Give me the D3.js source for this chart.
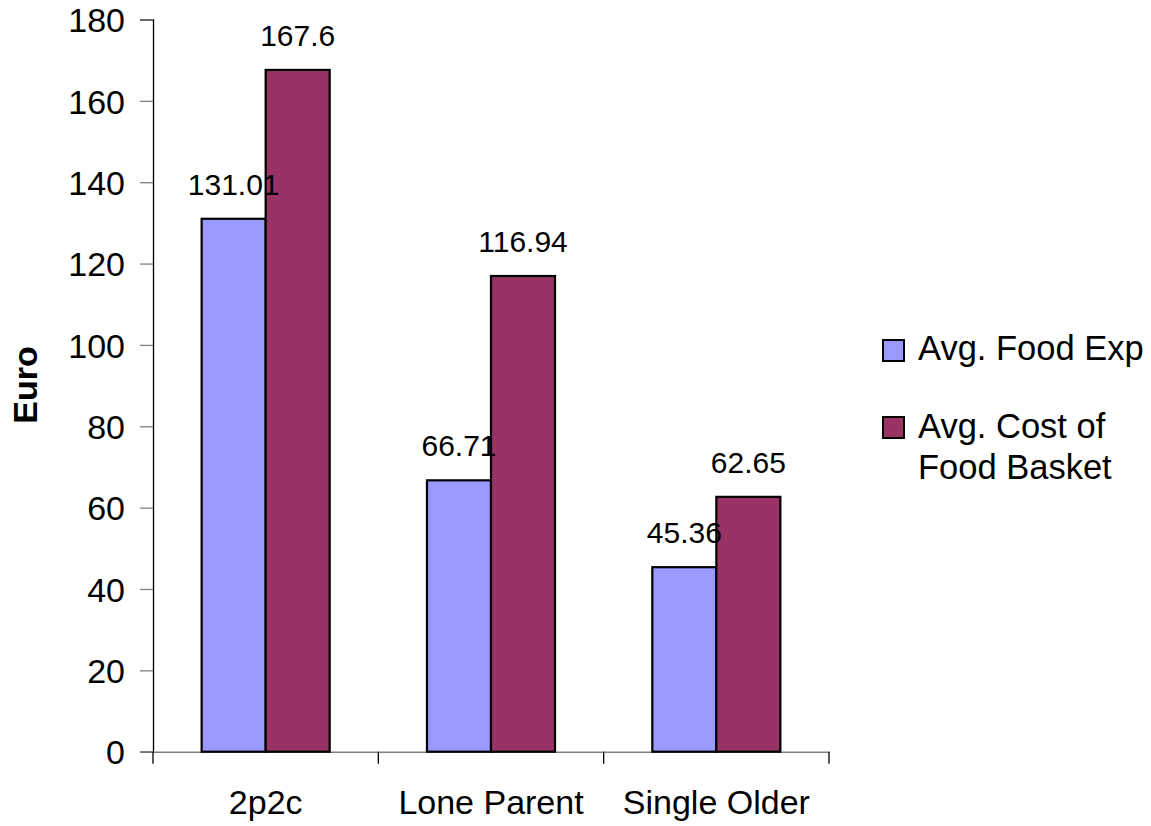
<!DOCTYPE html>
<html>
<head>
<meta charset="utf-8">
<script src="https://cdn.jsdelivr.net/npm/d3@7"></script>
<style>
  html, body { margin: 0; padding: 0; background: #fff; }
  svg text { font-family: "Liberation Sans", Arial, sans-serif; fill: #000; }
</style>
</head>
<body>
<svg id="chart" width="1151" height="826"></svg>
<script>
// Household types on the x axis
const categories = ["2p2c", "Lone Parent", "Single Older"];
// Weekly food figures in euro
const avgFoodExp = [131.01, 66.71, 45.36];
const avgFoodBasket = [167.6, 116.94, 62.65];
const seriesNames = ["Avg. Food Exp", "Avg. Cost of Food Basket"];
const seriesColors = ["#9999FF", "#993366"];
const yTicks = [0, 20, 40, 60, 80, 100, 120, 140, 160, 180];

const series = [avgFoodExp, avgFoodBasket];

const svg = d3.select("#chart");
const plot = { left: 153, right: 829, top: 19.5, bottom: 751.7 };

const y = d3.scaleLinear().domain([0, 180]).range([plot.bottom, plot.top]);
const x0 = d3.scaleBand().domain(categories).range([plot.left, plot.right])
  .paddingInner(0).paddingOuter(0);
const x1 = d3.scaleBand().domain([0, 1])
  .range([0, x0.bandwidth()]).paddingInner(0).paddingOuter(0.76);

// Y axis
const yAxis = d3.axisLeft(y).tickValues(yTicks).tickSize(13).tickPadding(15)
  .tickFormat(d3.format("d"));
const gy = svg.append("g").attr("transform", `translate(${plot.left},0)`).call(yAxis);
gy.select(".domain").attr("stroke", "#000").attr("stroke-width", 1.3);
gy.selectAll(".tick line").attr("stroke", "#808080").attr("stroke-width", 1.3);
gy.selectAll(".tick text").style("font-size", "34px").attr("dy", "0.36em");

// X axis
const xAxis = d3.axisBottom(x0).tickSize(0).tickPadding(62);
const gx = svg.append("g").attr("transform", `translate(0,${plot.bottom})`).call(xAxis);
gx.select(".domain").attr("stroke", "#808080").attr("stroke-width", 1.5);
gx.selectAll(".tick text").style("font-size", "34px").attr("dy", "0");
// Category separators
const sepPositions = [plot.left, ...categories.slice(1).map(c => x0(c)), plot.right];
gx.selectAll("line.sep").data(sepPositions).enter().append("line")
  .attr("class", "sep")
  .attr("x1", d => d).attr("x2", d => d)
  .attr("y1", 0).attr("y2", 12)
  .attr("stroke", "#000").attr("stroke-width", 1.3);

// Bars
const groups = svg.append("g").selectAll("g").data(categories).enter().append("g")
  .attr("transform", d => `translate(${x0(d)},0)`);

groups.selectAll("rect").data((c, i) => series.map((s, k) => ({ k, v: s[i] })))
  .enter().append("rect")
  .attr("x", d => x1(d.k))
  .attr("width", x1.bandwidth())
  .attr("y", d => y(d.v))
  .attr("height", d => y(0) - y(d.v))
  .attr("fill", d => seriesColors[d.k])
  .attr("stroke", "#000").attr("stroke-width", 2.2);

// Value labels
groups.selectAll("text.val").data((c, i) => series.map((s, k) => ({ k, v: s[i] })))
  .enter().append("text")
  .attr("class", "val")
  .attr("x", d => x1(d.k) + x1.bandwidth() / 2)
  .attr("y", d => y(d.v) - 24)
  .attr("text-anchor", "middle")
  .style("font-size", "30px")
  .text(d => String(d.v));

// Y axis title
svg.append("text")
  .attr("transform", "translate(37,385) rotate(-90)")
  .attr("text-anchor", "middle")
  .style("font-size", "34px").style("font-weight", "bold")
  .text("Euro");

// Legend
const legend = svg.append("g").attr("transform", "translate(883,0)");
const legendRows = [
  { lines: ["Avg. Food Exp"], box: 340, base: 360 },
  { lines: ["Avg. Cost of", "Food Basket"], box: 417, base: 438 }
];
legendRows.forEach((row, i) => {
  legend.append("rect")
    .attr("x", 0).attr("y", row.box).attr("width", 21).attr("height", 21)
    .attr("fill", seriesColors[i]).attr("stroke", "#000").attr("stroke-width", 2);
  const t = legend.append("text").attr("x", 35).attr("y", row.base)
    .style("font-size", "34.5px");
  row.lines.forEach((ln, j) => {
    t.append("tspan").attr("x", 35).attr("dy", j === 0 ? 0 : 41).text(ln);
  });
});
</script>
</body>
</html>
